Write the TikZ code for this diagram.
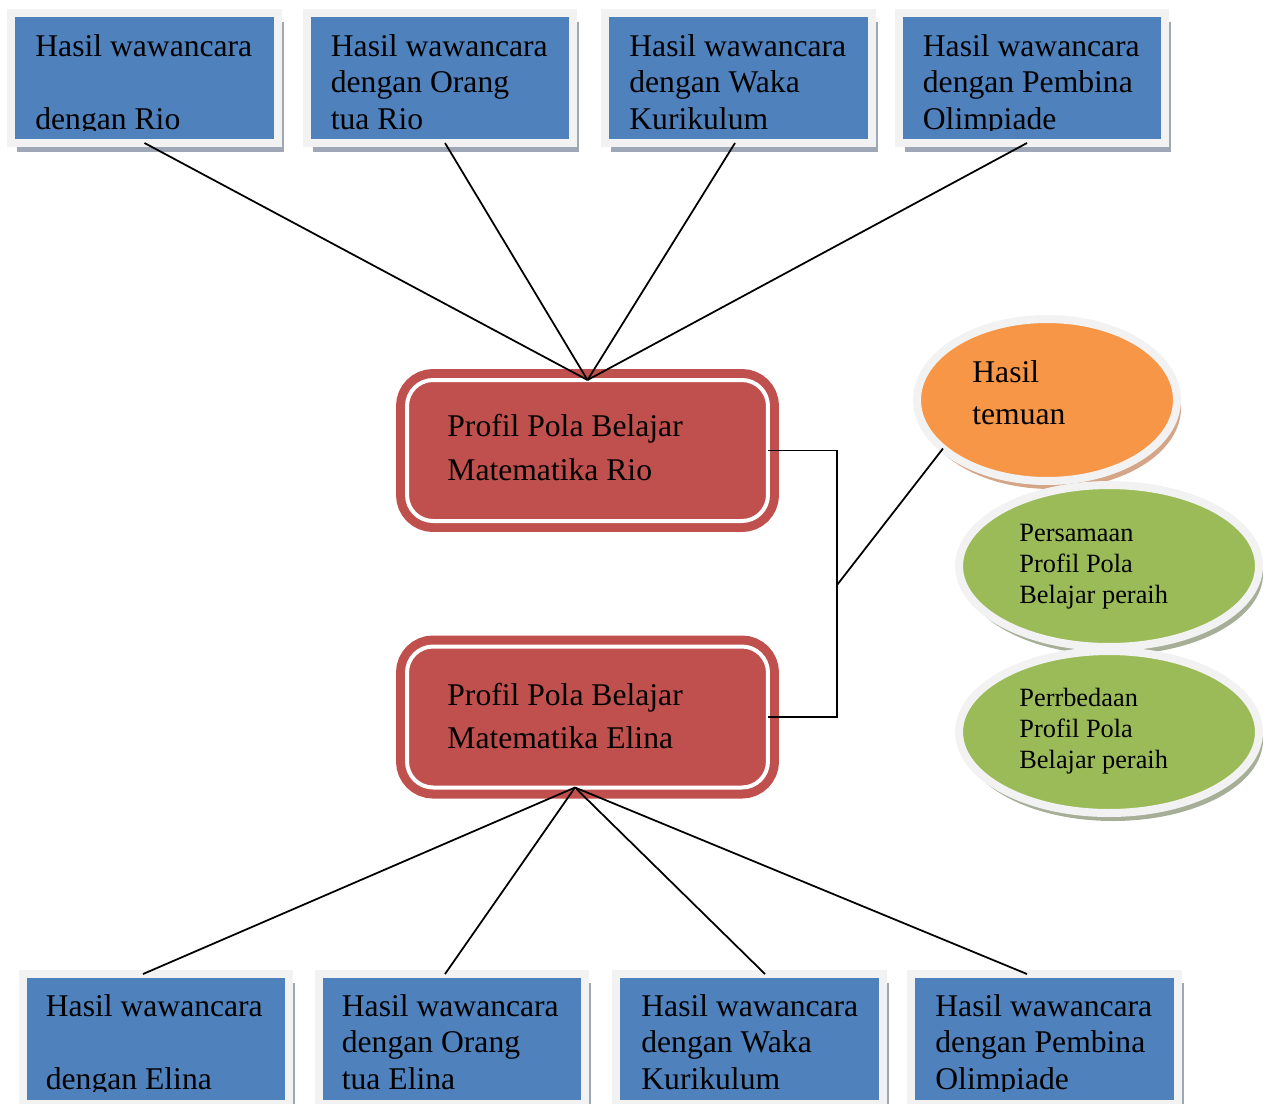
\documentclass[tikz,border=0pt]{standalone}
\usepackage{fontspec}
\setmainfont{Liberation Serif}
\usetikzlibrary{shapes.geometric,shadows}
\definecolor{wblue}{HTML}{4F81BD}
\definecolor{wred}{HTML}{C0504D}
\definecolor{worange}{HTML}{F79646}
\definecolor{wgreen}{HTML}{9BBB59}
\definecolor{wring}{HTML}{F2F2F2}
\definecolor{boxshade}{HTML}{9EA7B6}
\definecolor{orshade}{HTML}{D4A586}
\definecolor{grshade}{HTML}{A7AE98}
\begin{document}
\begin{tikzpicture}
	[x=0.02cm,y=-0.02cm,
	box/.style={rectangle,fill=wblue,draw=wring,line width=0.16cm,
		minimum width=5.34cm,minimum height=2.6cm,inner sep=0pt,outer sep=0pt,
		drop shadow={shadow xshift=0.12cm,shadow yshift=-0.18cm,fill=boxshade,opacity=1}},
	rbox/.style={rectangle,rounded corners=0.52cm,fill=wred,draw=white,line width=0.08cm,
		minimum width=7.22cm,minimum height=2.82cm,inner sep=0pt,outer sep=0pt,
		preaction={draw=wred,line width=0.44cm}},
	oval/.style={ellipse,draw=wring,line width=0.16cm,minimum height=3.24cm,
		inner sep=0pt,outer sep=0pt},
	txt/.style={anchor=base west,inner sep=0pt,align=left,font=\fontsize{18pt}{20.6pt}\selectfont},
	rtxt/.style={txt,font=\fontsize{18pt}{24.5pt}\selectfont},
	gtxt/.style={txt,font=\fontsize{15pt}{17.4pt}\selectfont},
	link/.style={draw=black,line width=1pt}
	]
	\clip (0,0) rectangle (1266,1103);

	% wawancara Rio
	\node[box] (t1) at (144.5,78) {};
	\node[box] (t2) at (440,78) {};
	\node[box] (t3) at (738.5,78) {};
	\node[box] (t4) at (1032,78) {};
	% wawancara Elina
	\node[box] (b1) at (156,1039) {};
	\node[box] (b2) at (452,1039) {};
	\node[box] (b3) at (749.5,1039) {};
	\node[box] (b4) at (1044.5,1039) {};

	\node[rbox] (rio) at (587.5,450.5) {};
	\node[rbox] (elina) at (587.5,717) {};

	\node[oval,minimum width=5.2cm,fill=worange,
		drop shadow={shadow xshift=0.08cm,shadow yshift=-0.16cm,fill=orshade,opacity=1}] (temuan) at (1047,400) {};
	\node[oval,minimum width=6cm,fill=wgreen,
		drop shadow={shadow xshift=0.08cm,shadow yshift=-0.16cm,fill=grshade,opacity=1}] (sama) at (1109,566) {};
	\node[oval,minimum width=6cm,fill=wgreen,
		drop shadow={shadow xshift=0.08cm,shadow yshift=-0.16cm,fill=grshade,opacity=1}] (beda) at (1109,732) {};

	% last line sits on the base anchor
	\begin{scope}
		\clip ([shift={(4,4)}]t1.north west) rectangle ([shift={(-4,-12)}]t1.south east)
			([shift={(4,4)}]t2.north west) rectangle ([shift={(-4,-12)}]t2.south east)
			([shift={(4,4)}]t3.north west) rectangle ([shift={(-4,-12)}]t3.south east)
			([shift={(4,4)}]t4.north west) rectangle ([shift={(-4,-12)}]t4.south east)
			([shift={(4,4)}]b1.north west) rectangle ([shift={(-4,-13)}]b1.south east)
			([shift={(4,4)}]b2.north west) rectangle ([shift={(-4,-13)}]b2.south east)
			([shift={(4,4)}]b3.north west) rectangle ([shift={(-4,-13)}]b3.south east)
			([shift={(4,4)}]b4.north west) rectangle ([shift={(-4,-13)}]b4.south east);
		\node[txt] (t1x) at ([shift={(24,116)}]t1.north west) {Hasil wawancara\\\mbox{}\\dengan Rio};
		\node[txt] (t2x) at ([shift={(24,116)}]t2.north west) {Hasil wawancara\\dengan Orang\\tua Rio};
		\node[txt] (t3x) at ([shift={(24,116)}]t3.north west) {Hasil wawancara\\dengan Waka\\Kurikulum};
		\node[txt] (t4x) at ([shift={(24,116)}]t4.north west) {Hasil wawancara\\dengan Pembina\\Olimpiade};
		\node[txt] (b1x) at ([shift={(23,115)}]b1.north west) {Hasil wawancara\\\mbox{}\\dengan Elina};
		\node[txt] (b2x) at ([shift={(23,115)}]b2.north west) {Hasil wawancara\\dengan Orang\\tua Elina};
		\node[txt] (b3x) at ([shift={(25,115)}]b3.north west) {Hasil wawancara\\dengan Waka\\Kurikulum};
		\node[txt] (b4x) at ([shift={(24,115)}]b4.north west) {Hasil wawancara\\dengan Pembina\\Olimpiade};
	\end{scope}

	\node[rtxt] (riox) at ([shift={(40,100)}]rio.north west) {Profil Pola Belajar\\Matematika Rio};
	\node[rtxt] (elinax) at ([shift={(40,102)}]elina.north west) {Profil Pola Belajar\\Matematika Elina};
	\node[txt,font=\fontsize{18pt}{23.9pt}\selectfont] (temuanx) at ([shift={(55,24)}]temuan.west) {Hasil\\temuan};
	\node[gtxt] (samax) at ([shift={(60,37)}]sama.west) {Persamaan\\Profil Pola\\Belajar peraih};
	\node[gtxt] (bedax) at ([shift={(60,36)}]beda.west) {Perrbedaan\\Profil Pola\\Belajar peraih};

	\draw[link] (t1.south) -- (rio.north);
	\draw[link] ([xshift=0.1cm]t2.south) -- (rio.north);
	\draw[link] ([xshift=-0.07cm]t3.south) -- (rio.north);
	\draw[link] ([xshift=-0.1cm]t4.south) -- (rio.north);

	\coordinate (ej) at ([xshift=-0.25cm]elina.south);
	\draw[link] (ej) -- ([xshift=-0.26cm]b1.north);
	\draw[link] (ej) -- ([xshift=-0.14cm]b2.north);
	\draw[link] (ej) -- ([xshift=0.31cm]b3.north);
	\draw[link] (ej) -- ([xshift=-0.35cm]b4.north);

	\coordinate (kn) at (837,585);
	\draw[link] (rio.east) -| (kn) |- (elina.east);
	\draw[link] (kn) -- (temuan.205);
\end{tikzpicture}
\end{document}
